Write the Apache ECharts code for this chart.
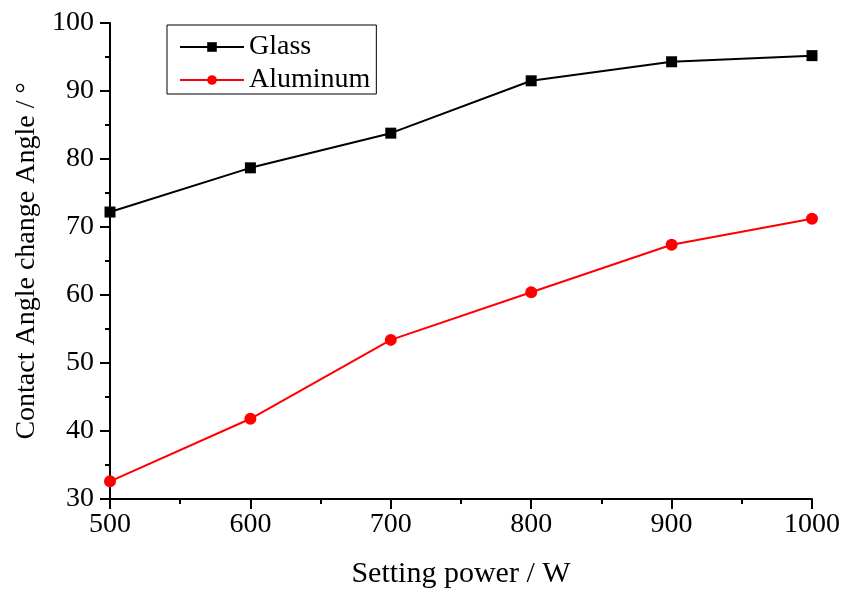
<!DOCTYPE html>
<html>
<head>
<meta charset="utf-8">
<script src="https://cdn.jsdelivr.net/npm/echarts@6/dist/echarts.min.js"></script>
<style>
  html, body { margin: 0; padding: 0; background: #fff; }
  #chart { width: 846px; height: 594px; }
</style>
</head>
<body>
<div id="chart"></div>
<script>
// x 轴：设定功率
const powers = [500, 600, 700, 800, 900, 1000];
// 接触角变化
const glassAngle = [72.2, 78.7, 83.8, 91.5, 94.3, 95.2];
const aluminumAngle = [32.6, 41.8, 53.4, 60.4, 67.4, 71.2];

const FONT = '"Liberation Serif", "Times New Roman", serif';

const chart = echarts.init(document.getElementById('chart'));

const toPairs = (ys) => powers.map((x, i) => [x, ys[i]]);

chart.setOption({
  backgroundColor: '#fff',
  animation: false,
  grid: { left: 110, right: 34, top: 23, bottom: 92, containLabel: false },
  legend: {
    left: 167,
    top: 25,
    orient: 'vertical',
    itemWidth: 64,
    itemHeight: 12,
    itemGap: 5,
    padding: [8, 6, 0, 12],
    borderColor: '#000',
    borderWidth: 1,
    borderRadius: 0,
    textStyle: { fontFamily: FONT, fontSize: 28, color: '#000' },
    data: ['Glass', 'Aluminum']
  },
  xAxis: {
    type: 'value',
    min: 500,
    max: 1000,
    interval: 100,
    name: 'Setting power / W',
    nameLocation: 'middle',
    nameGap: 60,
    nameTextStyle: { fontFamily: FONT, fontSize: 30, color: '#000' },
    axisLine: { show: true, lineStyle: { color: '#000', width: 2 } },
    axisTick: { show: true, inside: false, length: 10, lineStyle: { color: '#000', width: 2 } },
    minorTick: { show: true, splitNumber: 2, length: 5, lineStyle: { color: '#000', width: 2 } },
    axisLabel: { fontFamily: FONT, fontSize: 28, color: '#000', margin: 12, formatter: (v) => String(v) },
    splitLine: { show: false }
  },
  yAxis: {
    type: 'value',
    min: 30,
    max: 100,
    interval: 10,
    name: 'Contact Angle change Angle / °',
    nameLocation: 'middle',
    nameGap: 69,
    nameTextStyle: { fontFamily: FONT, fontSize: 28, color: '#000' },
    axisLine: { show: true, lineStyle: { color: '#000', width: 2 } },
    axisTick: { show: true, inside: false, length: 10, lineStyle: { color: '#000', width: 2 } },
    minorTick: { show: true, splitNumber: 2, length: 5, lineStyle: { color: '#000', width: 2 } },
    axisLabel: { fontFamily: FONT, fontSize: 28, color: '#000', margin: 16 },
    splitLine: { show: false }
  },
  series: [
    {
      name: 'Glass',
      type: 'line',
      data: toPairs(glassAngle),
      symbol: 'rect',
      symbolSize: 11,
      itemStyle: { color: '#000' },
      lineStyle: { color: '#000', width: 2 }
    },
    {
      name: 'Aluminum',
      type: 'line',
      data: toPairs(aluminumAngle),
      symbol: 'circle',
      symbolSize: 12,
      itemStyle: { color: '#ff0000' },
      lineStyle: { color: '#ff0000', width: 2 }
    }
  ]
});
</script>
</body>
</html>
